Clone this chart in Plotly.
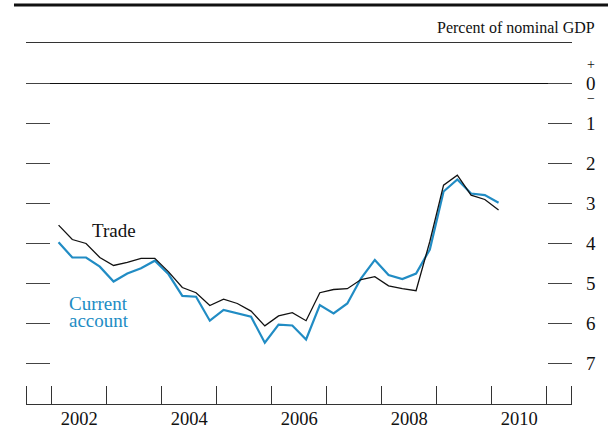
import plotly.graph_objects as go

quarters = ["2002Q1","2002Q2","2002Q3","2002Q4","2003Q1","2003Q2","2003Q3","2003Q4",
            "2004Q1","2004Q2","2004Q3","2004Q4","2005Q1","2005Q2","2005Q3","2005Q4",
            "2006Q1","2006Q2","2006Q3","2006Q4","2007Q1","2007Q2","2007Q3","2007Q4",
            "2008Q1","2008Q2","2008Q3","2008Q4","2009Q1","2009Q2","2009Q3","2009Q4",
            "2010Q1"]
trade = [-3.54,-3.90,-4.00,-4.35,-4.55,-4.47,-4.37,-4.37,
         -4.71,-5.10,-5.23,-5.55,-5.39,-5.50,-5.69,-6.06,
         -5.81,-5.73,-5.93,-5.23,-5.15,-5.13,-4.90,-4.83,
         -5.06,-5.13,-5.18,-3.95,-2.54,-2.29,-2.79,-2.90,
         -3.16]
current_account = [-3.97,-4.35,-4.35,-4.58,-4.95,-4.75,-4.62,-4.43,
                   -4.77,-5.31,-5.33,-5.93,-5.66,-5.75,-5.83,-6.48,
                   -6.03,-6.05,-6.40,-5.54,-5.75,-5.50,-4.87,-4.41,
                   -4.79,-4.89,-4.75,-4.15,-2.70,-2.40,-2.75,-2.79,
                   -2.98]
y_tick_vals = [0, -1, -2, -3, -4, -5, -6, -7]
y_tick_text = ["0", "1", "2", "3", "4", "5", "6", "7"]
x_label_years = [2002, 2004, 2006, 2008, 2010]
x_boundary_years = [2002, 2003, 2004, 2005, 2006, 2007, 2008, 2009, 2010, 2011]

def q_to_x(q):
    y, n = q.split("Q")
    return int(y) + (int(n) - 0.5) / 4.0

xs = [q_to_x(q) for q in quarters]

X0, X1 = 2001.533, 2011.46
FONT = "Liberation Serif, Times New Roman, serif"
BLUE = "#218cc4"

fig = go.Figure()
fig.add_trace(go.Scatter(x=xs, y=current_account, mode="lines",
                         line=dict(color=BLUE, width=2.2), hoverinfo="skip"))
fig.add_trace(go.Scatter(x=xs, y=trade, mode="lines",
                         line=dict(color="#111111", width=1.3), hoverinfo="skip"))

minor_vals = [X0 + 0.002] + x_boundary_years + [X1 - 0.002]

fig.update_layout(
    width=608, height=431, autosize=False,
    margin=dict(l=26, r=36, t=43, b=27),
    paper_bgcolor="white", plot_bgcolor="white",
    showlegend=False,
    font=dict(family=FONT, color="#111111", size=19),
    xaxis=dict(
        range=[X0, X1], showgrid=False, zeroline=False, automargin=False,
        tickmode="array", tickvals=[y + 0.5 for y in x_label_years],
        ticktext=[str(y) for y in x_label_years], ticks="",
        tickfont=dict(size=18.5), ticklabelstandoff=-2,
        showline=True, linecolor="#333333", linewidth=1, mirror=True,
        minor=dict(tickmode="array", tickvals=minor_vals, ticks="inside",
                   ticklen=18, tickcolor="#333333", tickwidth=1, showgrid=False),
    ),
    yaxis=dict(
        range=[-8.0125, 1.0125], side="right", showgrid=False, automargin=False,
        zeroline=True, zerolinecolor="#111111", zerolinewidth=1.2,
        tickmode="array", tickvals=y_tick_vals, ticktext=y_tick_text,
        ticks="inside", ticklen=24, tickcolor="#444444", tickwidth=1,
        mirror="ticks", showline=False, tickfont=dict(size=19),
        ticklabelstandoff=13,
    ),
)

# Decorative top rule
fig.add_shape(type="line", xref="paper", yref="paper",
              x0=-0.022, x1=1.07, y0=1.105, y1=1.105,
              line=dict(color="#111111", width=3))

fig.add_annotation(xref="paper", yref="paper", x=1.0458, y=1.0443,
                   text="Percent of nominal GDP", showarrow=False,
                   xanchor="right", yanchor="middle", font=dict(size=16))
fig.add_annotation(xref="paper", yref="y", x=1.035, y=0.48, text="+",
                   showarrow=False, xanchor="center", yanchor="middle", font=dict(size=14))
fig.add_annotation(xref="paper", yref="y", x=1.035, y=-0.38, text="\u2212",
                   showarrow=False, xanchor="center", yanchor="middle", font=dict(size=14))

fig.add_annotation(x=2003.14, y=-3.68, text="Trade", showarrow=False,
                   xanchor="center", yanchor="middle", font=dict(size=19, color="#111111"))
fig.add_annotation(x=2002.86, y=-5.49, text="Current", showarrow=False,
                   xanchor="center", yanchor="middle", font=dict(size=19, color=BLUE))
fig.add_annotation(x=2002.86, y=-5.93, text="account", showarrow=False,
                   xanchor="center", yanchor="middle", font=dict(size=19, color=BLUE))

fig.write_html("out.html", config={"responsive": False, "displayModeBar": False},
               post_script="document.body.style.margin='0';")
